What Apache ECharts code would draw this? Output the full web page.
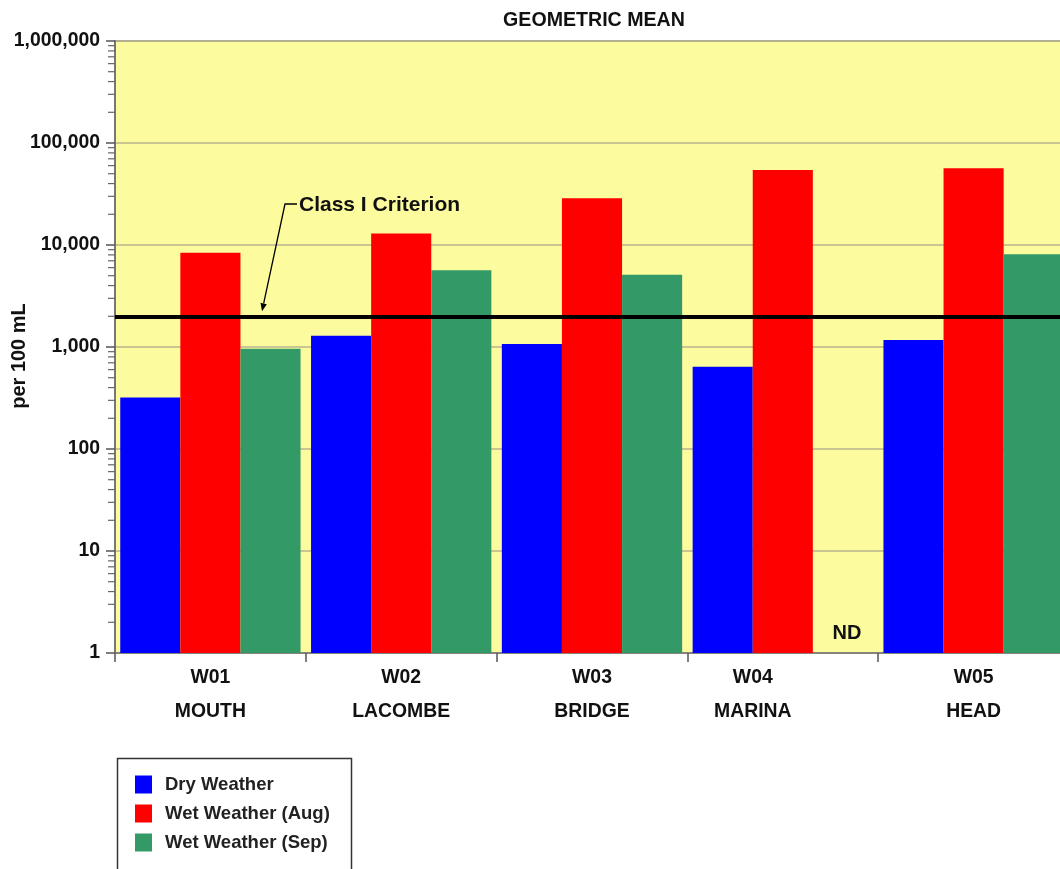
<!DOCTYPE html>
<html>
<head>
<meta charset="utf-8">
<title>Geometric Mean</title>
<script src="https://cdn.jsdelivr.net/npm/echarts@6.0.0/dist/echarts.min.js"></script>
<style>
  html, body { margin: 0; padding: 0; background: #ffffff; }
  #chart { width: 1060px; height: 869px; }
</style>
</head>
<body>
<div id="chart"></div>
<script>
// Sampling stations along the x axis
const stations = ['W01', 'W02', 'W03', 'W04', 'W05'];
const stationNames = ['MOUTH', 'LACOMBE', 'BRIDGE', 'MARINA', 'HEAD'];

// Geometric mean, per 100 mL (null = no data)
const dryWeather = [320, 1290, 1070, 640, 1170];
const wetWeatherAug = [8400, 13000, 28700, 54300, 56500];
const wetWeatherSep = [960, 5650, 5100, null, 8100];

const seriesNames = ['Dry Weather', 'Wet Weather (Aug)', 'Wet Weather (Sep)'];
const seriesColors = ['#0000ff', '#ff0000', '#339966'];

// Class I criterion
const criterion = 2000;
const criterionLabel = 'Class I Criterion';
const noDataLabel = 'ND';

// Log axis tick labels, by exponent
const yTickLabels = ['1', '10', '100', '1,000', '10,000', '100,000', '1,000,000'];

const FONT = '"Liberation Sans", Arial, Helvetica, sans-serif';
const TEXT_COLOR = '#111111';
const LABEL_SIZE = 19.4;

// Minor log ticks (2..9 within each decade)
const minorTicks = [];
for (let e = 0; e < 6; e++) {
  for (let m = 2; m <= 9; m++) minorTicks.push([0, m * Math.pow(10, e)]);
}

const categoryData = stations.map(function (s, i) {
  const item = { value: s + '\n' + stationNames[i] };
  // MARINA has no September bar, so its label sits over the two bars drawn
  if (wetWeatherSep[i] == null) item.textStyle = { padding: [0, 60, 0, 0] };
  return item;
});

const BAR_CATEGORY_GAP = 0.055;

const chart = echarts.init(document.getElementById('chart'), null, { renderer: 'canvas' });

const option = {
  animation: false,
  backgroundColor: '#ffffff',
  title: {
    text: 'GEOMETRIC MEAN',
    left: 589,
    top: 6,
    textAlign: 'center',
    textStyle: { fontFamily: FONT, fontWeight: 'bold', fontSize: 19.6, color: TEXT_COLOR }
  },
  grid: {
    left: 115,
    right: -9,
    top: 41,
    bottom: 216,
    outerBoundsMode: 'none',
    show: true,
    backgroundColor: '#fcfc9e',
    borderColor: '#9a9a9a',
    borderWidth: 2,
    containLabel: false
  },
  legend: {
    data: seriesNames,
    orient: 'vertical',
    left: 135,
    top: 775,
    padding: 0,
    itemGap: 10,
    itemWidth: 17,
    itemHeight: 18,
    icon: 'rect',
    selectedMode: false,
    textStyle: {
      fontFamily: FONT, fontWeight: 'bold', fontSize: 18.5, color: '#222222',
      lineHeight: 17, padding: [0, 0, 0, 8]
    }
  },
  xAxis: {
    type: 'category',
    data: categoryData,
    boundaryGap: true,
    axisLine: { show: true, lineStyle: { color: '#777777', width: 1.5 } },
    axisTick: { show: true, interval: 0, length: 9, inside: false, lineStyle: { color: '#555555', width: 1.5 } },
    axisLabel: {
      interval: 0,
      margin: 8,
      fontFamily: FONT, fontWeight: 'bold', fontSize: LABEL_SIZE, color: TEXT_COLOR,
      lineHeight: 34
    },
    splitLine: { show: false }
  },
  yAxis: {
    type: 'log',
    logBase: 10,
    min: 1,
    max: 1000000,
    splitNumber: 6,
    name: 'per 100 mL',
    nameLocation: 'middle',
    nameRotate: 90,
    nameGap: 86,
    nameMoveOverlap: false,
    nameTextStyle: {
      fontFamily: FONT, fontWeight: 'bold', fontSize: 20, color: TEXT_COLOR,
      padding: [0, 18, 0, 0]
    },
    axisLine: { show: true, lineStyle: { color: '#777777', width: 2 } },
    axisTick: { show: true, length: 9, inside: false, lineStyle: { color: '#555555', width: 1.5 } },
    minorTick: { show: false },
    axisLabel: {
      margin: 15,
      fontFamily: FONT, fontWeight: 'bold', fontSize: LABEL_SIZE, color: TEXT_COLOR,
      formatter: function (v) {
        const e = Math.round(Math.log10(v));
        return yTickLabels[e] !== undefined ? yTickLabels[e] : '';
      }
    },
    splitLine: { show: true, lineStyle: { color: '#bab58c', width: 1.5 } }
  },
  series: [
    {
      name: seriesNames[0],
      type: 'bar',
      data: dryWeather,
      barGap: '0%',
      barCategoryGap: (BAR_CATEGORY_GAP * 100) + '%',
      itemStyle: { color: seriesColors[0] }
    },
    {
      name: seriesNames[1],
      type: 'bar',
      data: wetWeatherAug,
      barGap: '0%',
      barCategoryGap: (BAR_CATEGORY_GAP * 100) + '%',
      itemStyle: { color: seriesColors[1] },
      markLine: {
        silent: true,
        symbol: 'none',
        z: 10,
        label: { show: false },
        lineStyle: { color: '#000000', width: 4, type: 'solid' },
        data: [{ yAxis: criterion }]
      }
    },
    {
      name: seriesNames[2],
      type: 'bar',
      data: wetWeatherSep,
      barGap: '0%',
      barCategoryGap: (BAR_CATEGORY_GAP * 100) + '%',
      itemStyle: { color: seriesColors[2] }
    },
    {
      // minor tick marks on the log axis
      name: 'minorTicks',
      type: 'custom',
      data: minorTicks,
      encode: { x: 0, y: 1 },
      silent: true,
      clip: false,
      z: 5,
      renderItem: function (params, api) {
        const pt = api.coord([0, api.value(1)]);
        const x0 = params.coordSys.x;
        return {
          type: 'line',
          shape: { x1: x0 - 7, y1: pt[1], x2: x0, y2: pt[1] },
          style: { stroke: '#666666', lineWidth: 1.2 }
        };
      }
    }
  ]
};

chart.setOption(option);

// Annotation, legend frame and ND label, placed through the axes' own scales
const yCrit = chart.convertToPixel({ yAxisIndex: 0 }, criterion);
const yBase = chart.convertToPixel({ yAxisIndex: 0 }, 1);
const ndIndex = wetWeatherSep.findIndex(function (v) { return v == null; });
const c0 = chart.convertToPixel({ xAxisIndex: 0 }, 0);
const c1 = chart.convertToPixel({ xAxisIndex: 0 }, 1);
const catWidth = c1 - c0;
const barWidth = catWidth * (1 - BAR_CATEGORY_GAP) / 3;
const ndX = chart.convertToPixel({ xAxisIndex: 0 }, ndIndex) + barWidth;

const tip = [262, yCrit - 5];
const elbow = [285, 204];
const ang = Math.atan2(tip[1] - elbow[1], tip[0] - elbow[0]);
const aLen = 8, aHalf = 3.2;
const base = [tip[0] - aLen * Math.cos(ang), tip[1] - aLen * Math.sin(ang)];
const perp = [-Math.sin(ang), Math.cos(ang)];

chart.setOption({
  graphic: [
    {
      // legend frame, running past the bottom edge
      type: 'rect',
      z: -1,
      shape: { x: 117.5, y: 758.5, width: 234, height: 140 },
      style: { stroke: '#333333', lineWidth: 1.5, fill: '#ffffff' }
    },
    {
      type: 'text',
      x: 299,
      y: 205,
      z: 20,
      style: {
        text: criterionLabel,
        fontFamily: FONT, fontWeight: 'bold', fontSize: 21, fill: TEXT_COLOR,
        align: 'left', verticalAlign: 'middle'
      }
    },
    {
      type: 'polyline',
      z: 20,
      shape: { points: [[297, 204], elbow, base] },
      style: { stroke: '#000000', lineWidth: 1.3, fill: null }
    },
    {
      type: 'polygon',
      z: 20,
      shape: {
        points: [
          tip,
          [base[0] + perp[0] * aHalf, base[1] + perp[1] * aHalf],
          [base[0] - perp[0] * aHalf, base[1] - perp[1] * aHalf]
        ]
      },
      style: { fill: '#000000' }
    },
    {
      type: 'text',
      x: ndX + 4,
      y: yBase - 20,
      z: 20,
      style: {
        text: noDataLabel,
        fontFamily: FONT, fontWeight: 'bold', fontSize: 20, fill: TEXT_COLOR,
        align: 'center', verticalAlign: 'middle'
      }
    }
  ]
});
</script>
</body>
</html>
